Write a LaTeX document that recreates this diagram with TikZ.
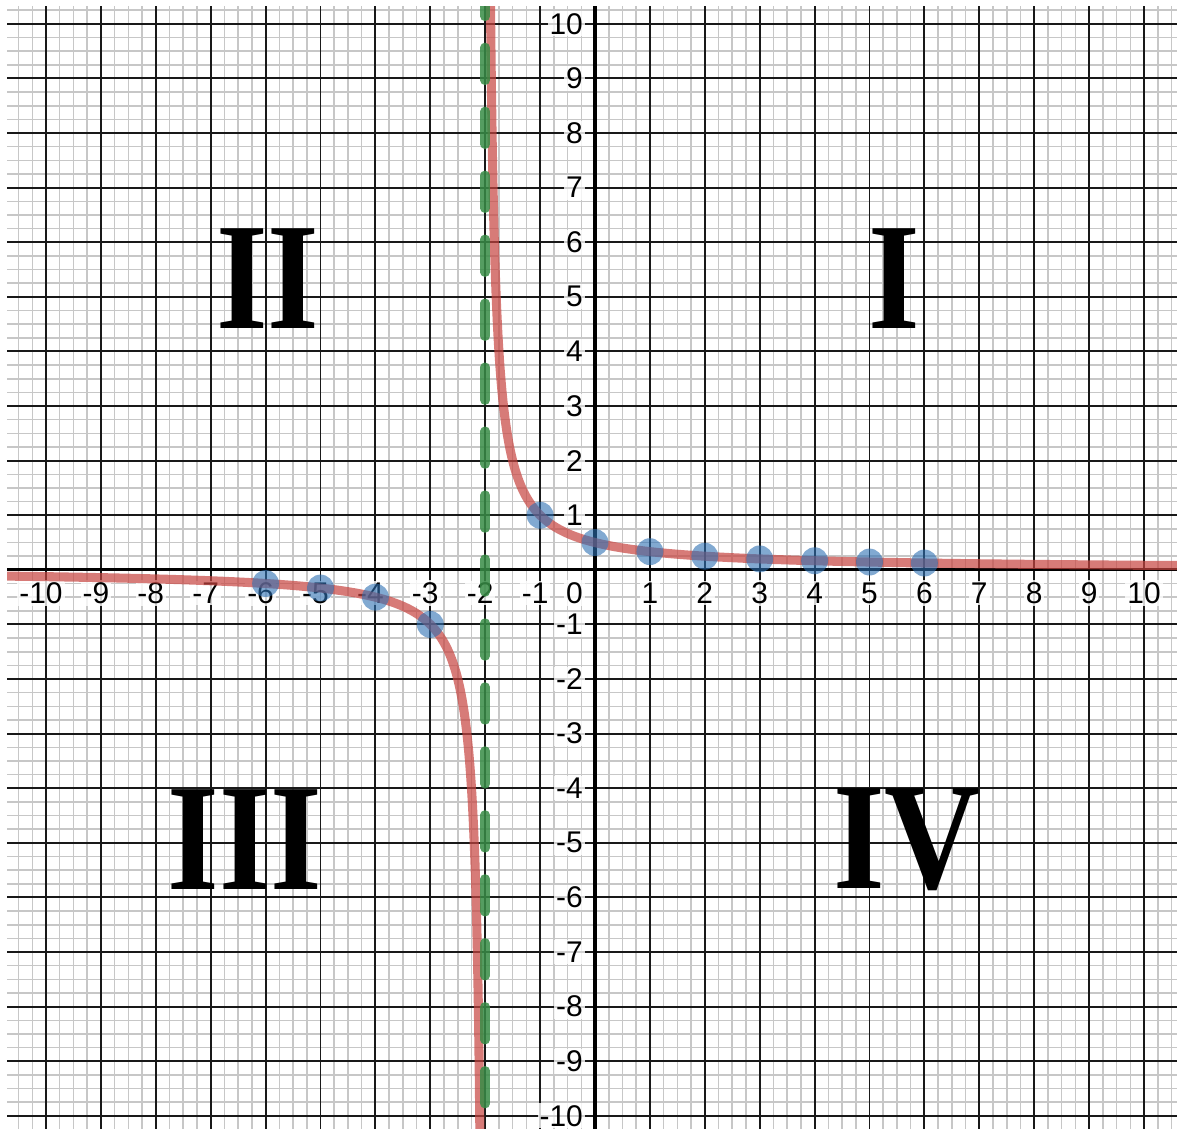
\documentclass[tikz,border=0pt]{standalone}
\usepackage{graphicx}
\usepackage{fontspec}
\newfontfamily\numfont{Liberation Sans}
\newfontfamily\quadfont{Liberation Serif}
\definecolor{curvered}{HTML}{C74440}
\definecolor{dotblue}{HTML}{2D70B3}
\definecolor{asymgreen}{HTML}{388C46}

\begin{document}
\begin{tikzpicture}[
  x=1cm, y=0.9945cm,
  minor/.style={line width=0.8pt, black!22},
  major/.style={line width=1pt, black!90},
  axis/.style={line width=1.7pt, black},
  ticklab/.style={font=\numfont\fontsize{15.5}{15.5}\selectfont, fill=white,
                  fill opacity=0.8, text opacity=1, inner sep=1pt},
  curve/.style={line width=4.7pt, curvered, opacity=0.7},
  asym/.style={line width=4.9pt, asymgreen, opacity=0.85, line cap=round,
               dash pattern=on 0.6cm off 0.565cm},
  dot/.style={circle, fill=dotblue, fill opacity=0.6, inner sep=0pt,
              minimum size=0.49cm},
  quad/.style={font=\quadfont\bfseries\fontsize{79}{79}\selectfont, inner sep=0pt},
]
  \useasboundingbox (-10.838,-10.223) rectangle (10.601,10.437);
  \fill[white] (-10.838,-10.223) rectangle (10.601,10.437);

  \begin{scope}
    \clip (-10.71,-10.223) rectangle (10.601,10.31);
    % grid: quarter units, then whole units, then the axes
    \foreach \i in {-44,...,43} \draw[minor] (\i/4,-10.5) -- (\i/4,10.5);
    \foreach \j in {-41,...,42} \draw[minor] (-11,\j/4) -- (11,\j/4);
    \foreach \i in {-11,...,10} \draw[major] (\i,-10.5) -- (\i,10.5);
    \foreach \j in {-10,...,10} \draw[major] (-11,\j) -- (11,\j);
    \draw[axis] (-11,0) -- (11,0);
    \draw[axis] (0,-10.5) -- (0,10.5);

    % tick labels
    \foreach \i in {1,...,10} {
      \node[ticklab] (xp\i) at (\i,-0.424) {\i};
      \node[ticklab, xshift=-2.6pt] (xn\i) at (-\i,-0.424) {-\i};
      \node[ticklab, anchor=east] (yp\i) at (-0.18,\i) {\i};
      \node[ticklab, anchor=east] (yn\i) at (-0.18,-\i) {-\i};
    }
    \node[ticklab, anchor=east] (org) at (-0.18,-0.424) {0};

    % y = 1/(x+2), both branches
    \draw[curve] plot[domain=-2.5:2.2, samples=200] ({-2-exp(\x)},{-exp(-\x)});
    \draw[curve] plot[domain=-2.5:2.6, samples=200] ({-2+exp(\x)},{exp(-\x)});

    % vertical asymptote x = -2
    \coordinate (atop) at (-2,10.74);
    \coordinate (abot) at (-2,-10.6);
    \draw[asym] (atop) -- (abot);

    % table points
    \foreach \x in {-6,-5,-4,-3,-1,0,1,2,3,4,5,6}
      \node[dot] (p\x) at (\x,{1/(\x+2)}) {};
  \end{scope}

  % quadrant numerals
  \node[quad] (q1) at (5.45,5.34) {\scalebox{0.87}[1]{I}};
  \node[quad] (q2) at (-5.96,5.34) {\scalebox{0.87}[1]{II}};
  \node[quad] (q3) at (-6.375,-4.94) {\scalebox{0.87}[1]{III}};
  \node[quad] (q4) at (5.68,-4.94) {\scalebox{0.87}[1]{IV}};
\end{tikzpicture}
\end{document}
